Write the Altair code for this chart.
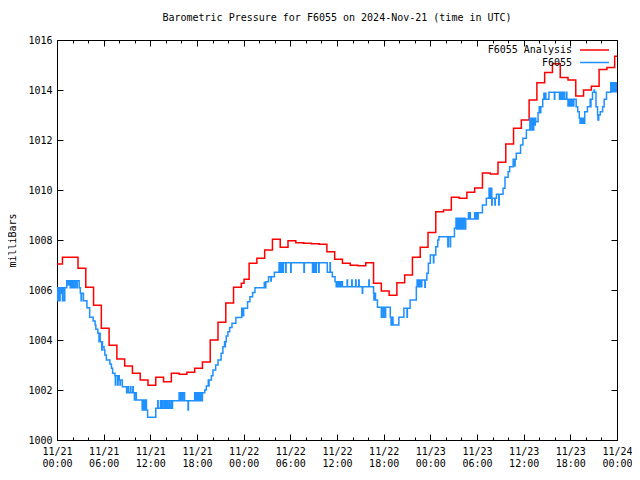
import altair as alt
import pandas as pd

FONT = "DejaVu Sans Mono"

title_text = "Barometric Pressure for F6055 on 2024-Nov-21 (time in UTC)"
y_title = "milliBars"
series_names = ["F6055 Analysis", "F6055"]
series_colors = ["#ff0000", "#1e90ff"]

x_major = [0, 6, 12, 18, 24, 30, 36, 42, 48, 54, 60, 66, 72]
x_minor = list(range(0, 73, 2))
x_tick_dates = ["11/21", "11/21", "11/21", "11/21", "11/22", "11/22", "11/22",
                "11/22", "11/23", "11/23", "11/23", "11/23", "11/24"]
x_tick_times = ["00:00", "06:00", "12:00", "18:00", "00:00", "06:00", "12:00",
                "18:00", "00:00", "06:00", "12:00", "18:00", "00:00"]
y_ticks = [1000, 1002, 1004, 1006, 1008, 1010, 1012, 1014, 1016]

# Analysis series (hours since 11/21 00:00 UTC, value in mb) - step changes
red_hours = [0.0, 0.7, 2.7, 3.7, 4.7, 5.7, 6.7, 7.7, 8.7, 9.7, 10.7, 11.7, 12.7,
             13.7, 14.7, 15.7, 16.7, 17.7, 18.7, 19.7, 20.7, 21.7, 22.7, 23.7,
             24.05, 24.7, 25.7, 26.7, 27.7, 28.7, 29.7, 30.7, 31.7, 32.7, 33.7,
             34.7, 35.7, 36.7, 37.7, 38.7, 39.7, 40.7, 41.7, 42.7, 43.7, 44.7,
             45.7, 46.7, 47.7, 48.7, 49.7, 50.7, 51.7, 52.7, 53.7, 54.7, 55.7,
             56.7, 57.7, 58.7, 59.7, 60.7, 61.7, 62.7, 63.7, 64.7, 65.7, 66.7,
             67.7, 68.7, 69.7, 70.7, 71.7, 72.0]
red_mb = [1007.04, 1007.31, 1006.87, 1006.11, 1005.39, 1004.47, 1003.79, 1003.24,
          1002.96, 1002.67, 1002.40, 1002.19, 1002.51, 1002.33, 1002.67, 1002.63,
          1002.71, 1002.87, 1003.12, 1004.00, 1004.71, 1005.48, 1006.11, 1006.27,
          1006.43, 1007.07, 1007.27, 1007.60, 1008.03, 1007.71, 1007.97, 1007.89,
          1007.87, 1007.85, 1007.83, 1007.53, 1007.23, 1007.07, 1006.99, 1006.97,
          1007.09, 1006.27, 1005.96, 1005.79, 1006.29, 1006.60, 1007.31, 1007.71,
          1008.30, 1009.13, 1009.20, 1009.71, 1009.67, 1009.91, 1010.08, 1010.68,
          1010.64, 1011.11, 1011.84, 1012.47, 1012.80, 1013.60, 1014.29, 1014.70,
          1015.05, 1014.50, 1014.40, 1013.76, 1014.00, 1014.15, 1014.82, 1014.90,
          1015.35, 1015.35]

# Station series: (hour, mb) at each change of reported value
blue_steps = [
    (0.0, 1005.57), (0.05, 1006.09), (0.1, 1005.57), (0.15, 1005.87), (0.2, 1006.09),
    (0.25, 1005.57), (0.3, 1006.09), (0.35, 1005.57), (0.4, 1006.09), (0.5, 1005.87),
    (0.55, 1006.09), (0.7, 1005.57), (0.75, 1006.09), (0.95, 1005.57), (1.0, 1006.09),
    (1.25, 1006.37), (1.45, 1006.2), (1.5, 1006.37), (1.7, 1006.09), (1.75, 1006.37),
    (1.85, 1006.09), (1.9, 1006.37), (2.05, 1006.09), (2.1, 1006.37), (2.3, 1006.09),
    (2.35, 1006.37), (2.55, 1006.09), (2.6, 1006.37), (2.85, 1006.09), (3.0, 1005.87),
    (3.1, 1005.57), (3.15, 1005.87), (3.4, 1005.57), (3.85, 1005.29), (4.2, 1004.91),
    (4.65, 1004.76), (4.9, 1004.6), (5.0, 1004.43), (5.25, 1004.27), (5.4, 1003.93),
    (5.45, 1004.27), (5.55, 1003.93), (5.75, 1003.6), (5.8, 1003.93), (5.85, 1003.73),
    (6.05, 1003.6), (6.15, 1003.4), (6.35, 1003.2), (6.8, 1003.04), (7.0, 1002.87),
    (7.15, 1002.67), (7.45, 1002.57), (7.5, 1002.2), (7.55, 1002.57), (7.8, 1002.2),
    (7.85, 1002.4), (7.95, 1002.57), (8.0, 1002.4), (8.1, 1002.2), (8.15, 1002.4),
    (8.4, 1002.13), (8.95, 1001.89), (9.15, 1002.13), (9.2, 1001.89), (9.45, 1002.13),
    (9.5, 1001.89), (9.75, 1002.13), (9.8, 1001.89), (9.95, 1001.6), (10.0, 1001.89),
    (10.2, 1001.6), (10.95, 1001.2), (11.0, 1001.6), (11.15, 1001.2), (11.2, 1001.6),
    (11.35, 1001.2), (11.4, 1001.6), (11.5, 1001.2), (11.65, 1000.91), (12.7, 1001.27),
    (12.95, 1001.57), (13.0, 1001.27), (13.3, 1001.57), (13.35, 1001.27), (13.5, 1001.57),
    (13.55, 1001.27), (13.75, 1001.57), (13.8, 1001.27), (13.85, 1001.57), (13.9, 1001.27),
    (13.95, 1001.57), (14.0, 1001.27), (14.05, 1001.57), (14.1, 1001.27), (14.15, 1001.57),
    (14.2, 1001.27), (14.4, 1001.57), (14.45, 1001.27), (14.65, 1001.57), (14.7, 1001.27),
    (14.85, 1001.57), (15.7, 1001.89), (15.75, 1001.57), (15.8, 1001.89), (15.85, 1001.57),
    (15.9, 1001.89), (15.95, 1001.57), (16.0, 1001.89), (16.05, 1001.57), (16.1, 1001.89),
    (16.15, 1001.57), (16.2, 1001.89), (16.4, 1001.57), (16.85, 1001.2), (16.9, 1001.57),
    (17.7, 1001.89), (17.75, 1001.57), (17.85, 1001.89), (17.9, 1001.57), (18.0, 1001.89),
    (18.05, 1001.57), (18.15, 1001.89), (18.2, 1001.57), (18.3, 1001.89), (18.35, 1001.57),
    (18.5, 1001.89), (18.55, 1001.57), (18.7, 1001.89), (19.0, 1002.0), (19.2, 1002.16),
    (19.45, 1002.4), (19.5, 1002.16), (19.55, 1002.4), (19.85, 1002.57), (20.05, 1002.8),
    (20.4, 1003.0), (20.7, 1003.2), (21.1, 1003.47), (21.33, 1003.73), (21.54, 1003.93),
    (21.6, 1003.73), (21.65, 1003.93), (21.76, 1004.16), (21.97, 1004.33), (22.2, 1004.5),
    (22.5, 1004.67), (23.0, 1004.9), (23.75, 1005.27), (23.8, 1004.97), (23.85, 1005.27),
    (23.9, 1004.97), (24.0, 1005.27), (24.5, 1005.53), (24.8, 1005.73), (25.15, 1005.9),
    (25.45, 1006.09), (26.65, 1006.3), (26.7, 1006.09), (26.85, 1006.33), (27.2, 1006.53),
    (27.5, 1006.36), (27.55, 1006.53), (27.95, 1006.71), (28.55, 1007.09), (28.6, 1006.71),
    (28.65, 1007.09), (28.75, 1006.71), (28.8, 1007.09), (28.9, 1006.71), (28.95, 1007.09),
    (29.05, 1006.71), (29.1, 1007.09), (29.4, 1006.71), (29.45, 1007.09), (30.05, 1006.71),
    (30.1, 1007.09), (31.75, 1006.71), (31.8, 1007.09), (32.85, 1006.71), (32.9, 1007.09),
    (33.0, 1006.71), (33.05, 1007.09), (33.15, 1006.71), (33.2, 1007.09), (33.3, 1006.71),
    (33.35, 1007.09), (33.65, 1006.71), (33.7, 1007.09), (34.75, 1006.71), (35.1, 1007.09),
    (35.15, 1006.71), (35.4, 1006.53), (35.75, 1006.33), (35.9, 1006.13), (36.05, 1006.33),
    (36.1, 1006.13), (36.2, 1006.33), (36.25, 1006.13), (36.35, 1006.33), (36.4, 1006.13),
    (36.5, 1006.33), (36.55, 1006.13), (36.65, 1006.33), (36.7, 1006.13), (37.3, 1006.4),
    (37.35, 1006.13), (37.9, 1006.4), (37.95, 1006.13), (38.4, 1006.4), (38.45, 1006.13),
    (38.8, 1006.4), (38.85, 1006.13), (39.25, 1005.87), (39.3, 1006.13), (40.1, 1006.4),
    (40.15, 1006.13), (40.7, 1005.87), (40.75, 1005.6), (40.8, 1005.87), (40.95, 1005.6),
    (41.2, 1005.31), (41.7, 1004.91), (41.75, 1005.31), (41.95, 1004.91), (42.0, 1005.31),
    (42.2, 1004.91), (42.25, 1005.31), (42.85, 1004.91), (42.95, 1004.6), (43.0, 1004.91),
    (43.1, 1004.6), (43.15, 1004.91), (43.2, 1004.6), (43.95, 1004.91), (44.6, 1005.27),
    (45.0, 1004.91), (45.05, 1005.27), (45.4, 1005.6), (46.2, 1006.13), (46.3, 1006.4),
    (46.35, 1006.13), (46.45, 1006.4), (46.5, 1006.13), (46.6, 1006.4), (46.65, 1006.13),
    (46.75, 1006.4), (46.8, 1006.13), (46.9, 1006.4), (47.3, 1006.11), (47.35, 1006.4),
    (47.55, 1006.67), (47.75, 1007.07), (48.0, 1007.4), (48.4, 1007.09), (48.45, 1007.4),
    (48.7, 1007.73), (48.95, 1008.0), (49.1, 1008.13), (50.25, 1007.73), (50.3, 1008.13),
    (50.55, 1007.73), (50.6, 1008.13), (51.1, 1008.47), (51.3, 1008.87), (51.4, 1008.44),
    (51.45, 1008.87), (51.6, 1008.44), (51.65, 1008.87), (51.8, 1008.44), (51.85, 1008.87),
    (52.0, 1008.44), (52.05, 1008.87), (52.2, 1008.44), (52.25, 1008.87), (52.45, 1008.44),
    (52.55, 1008.84), (52.9, 1009.09), (52.95, 1008.84), (53.1, 1009.09), (53.15, 1008.84),
    (53.7, 1009.09), (53.75, 1008.84), (53.85, 1009.09), (53.9, 1008.84), (54.0, 1009.09),
    (54.05, 1008.84), (54.15, 1009.09), (54.7, 1009.4), (55.2, 1009.67), (55.55, 1010.07),
    (55.6, 1009.67), (55.65, 1010.07), (55.7, 1009.67), (55.75, 1010.07), (55.9, 1009.4),
    (55.95, 1009.67), (56.3, 1009.4), (56.35, 1009.67), (56.5, 1009.83), (56.8, 1009.4),
    (56.85, 1009.83), (57.35, 1010.07), (57.6, 1010.51), (58.0, 1010.73), (58.2, 1010.93),
    (58.65, 1011.23), (58.85, 1010.96), (58.9, 1011.23), (59.05, 1011.47), (59.6, 1011.8),
    (59.9, 1012.07), (60.35, 1012.4), (60.8, 1012.87), (60.85, 1012.4), (60.95, 1012.87),
    (61.0, 1012.6), (61.1, 1012.87), (61.15, 1012.4), (61.3, 1012.87), (61.35, 1012.6),
    (61.5, 1012.87), (61.55, 1012.73), (61.85, 1013.09), (62.0, 1013.33), (62.1, 1013.09),
    (62.2, 1013.33), (62.45, 1013.63), (62.6, 1013.87), (62.65, 1013.63), (62.8, 1013.87),
    (62.85, 1013.63), (63.25, 1013.91), (63.95, 1013.63), (64.0, 1013.91), (64.6, 1013.63),
    (64.65, 1013.91), (64.8, 1013.63), (64.85, 1013.91), (65.0, 1013.63), (65.05, 1013.91),
    (65.25, 1013.63), (65.5, 1013.91), (65.55, 1013.63), (65.7, 1013.36), (65.75, 1013.63),
    (65.85, 1013.36), (65.9, 1013.63), (66.0, 1013.36), (66.05, 1013.63), (66.15, 1013.36),
    (66.2, 1013.63), (66.3, 1013.36), (66.45, 1013.63), (66.75, 1013.33), (66.95, 1013.13),
    (67.15, 1012.87), (67.25, 1012.67), (67.3, 1012.87), (67.4, 1012.67), (67.45, 1012.87),
    (67.55, 1012.67), (67.6, 1012.87), (67.75, 1012.67), (67.85, 1013.13), (68.2, 1013.33),
    (68.55, 1013.63), (68.6, 1013.33), (68.65, 1013.63), (68.85, 1013.91), (69.05, 1014.0),
    (69.1, 1013.91), (69.3, 1013.33), (69.5, 1013.0), (69.55, 1012.8), (69.65, 1013.0),
    (69.85, 1013.13), (70.15, 1013.33), (70.35, 1013.63), (70.65, 1013.91), (71.2, 1014.29),
    (71.3, 1013.93), (71.35, 1014.29), (71.5, 1013.93), (71.55, 1014.29), (71.7, 1013.93),
    (71.75, 1014.29), (71.85, 1013.93), (71.9, 1014.29), (71.95, 1013.93), (72.0, 1013.93),
]

rows = []
for t, v in zip(red_hours, red_mb):
    rows.append({"hour": t, "mb": v, "series": series_names[0]})
for t, v in blue_steps:
    rows.append({"hour": t, "mb": v, "series": series_names[1]})
df = pd.DataFrame(rows)

W, H = 560, 400
xscale = alt.Scale(domain=[0, 72], nice=False, zero=False)
yscale = alt.Scale(domain=[1000, 1016], nice=False, zero=False)

label_expr = ("[" + ",".join(f"['{d}','{t}']" for d, t in zip(x_tick_dates, x_tick_times))
              + "][round(datum.value / 6)]")

lines = alt.Chart(df).mark_line(interpolate="step-after", strokeWidth=1.5, clip=True).encode(
    x=alt.X("hour:Q", scale=xscale,
            axis=alt.Axis(orient="bottom", values=x_major, labelExpr=label_expr,
                          ticks=False, domain=False, grid=False, title=None,
                          labelFont=FONT, labelFontSize=10, labelColor="black",
                          labelPadding=6, labelLineHeight=12, labelBaseline="top",
                          labelFlush=False, labelOverlap=False, labelBound=False)),
    y=alt.Y("mb:Q", scale=yscale,
            axis=alt.Axis(orient="left", values=y_ticks, format="d", ticks=False,
                          domain=False, grid=False, title=y_title, titleFont=FONT,
                          titleFontSize=10, titleFontWeight="normal", titleColor="black",
                          titleX=-45, titleY=200, titleAngle=270, titleAlign="center",
                          titleBaseline="middle", labelFont=FONT, labelFontSize=10,
                          labelPadding=5, labelColor="black", labelOverlap=False)),
    color=alt.Color("series:N", scale=alt.Scale(domain=series_names, range=series_colors),
                    legend=None),
    order=alt.Order("hour:Q"),
)

bounds = pd.DataFrame({"hour": [0, 72], "mb": [1000, 1016]})


def tick_axis(orient, values, size, offset):
    return alt.Axis(orient=orient, values=values, offset=offset, tickSize=size,
                    ticks=True, labels=False, domain=False, grid=False, title=None,
                    tickColor="black", tickWidth=1)


def tick_layer(xa, ya):
    return alt.Chart(bounds).mark_line(strokeOpacity=0).encode(
        x=alt.X("hour:Q", scale=xscale, axis=xa),
        y=alt.Y("mb:Q", scale=yscale, axis=ya),
    )


t2 = tick_layer(tick_axis("top", x_major, 6, -H), tick_axis("right", y_ticks, 6, -W))
t3 = tick_layer(tick_axis("top", x_minor, 3, -H), tick_axis("left", y_ticks, 6, -W))
t4 = tick_layer(tick_axis("bottom", x_major, 6, -H), None)
t5 = tick_layer(tick_axis("bottom", x_minor, 3, -H), None)

one = pd.DataFrame({"k": [0]})
legend_layers = []
for i, (name, col) in enumerate(zip(series_names, series_colors)):
    yy = 10 + 12.5 * i
    legend_layers.append(
        alt.Chart(one).mark_text(text=name, align="right", baseline="middle", font=FONT,
                                 fontSize=10, color="black")
        .encode(x=alt.value(515), y=alt.value(yy)))
    legend_layers.append(
        alt.Chart(one).mark_rule(color=col, strokeWidth=1.5)
        .encode(x=alt.value(523), x2=alt.value(552), y=alt.value(yy)))

chart = (
    alt.layer(lines, t2, t3, t4, t5, *legend_layers)
    .resolve_axis(x="independent", y="independent")
    .properties(
        width=W, height=H,
        title=alt.TitleParams(title_text, font=FONT, fontSize=10, fontWeight="normal",
                              color="black", anchor="middle", frame="group", offset=12),
        padding={"left": 49, "top": 32, "right": 15, "bottom": 30},
        autosize=alt.AutoSizeParams(type="none"),
        background="white",
    )
    .configure_view(stroke="black", strokeWidth=1)
)

chart.save("out.html", embed_options={"renderer": "svg", "actions": False})
